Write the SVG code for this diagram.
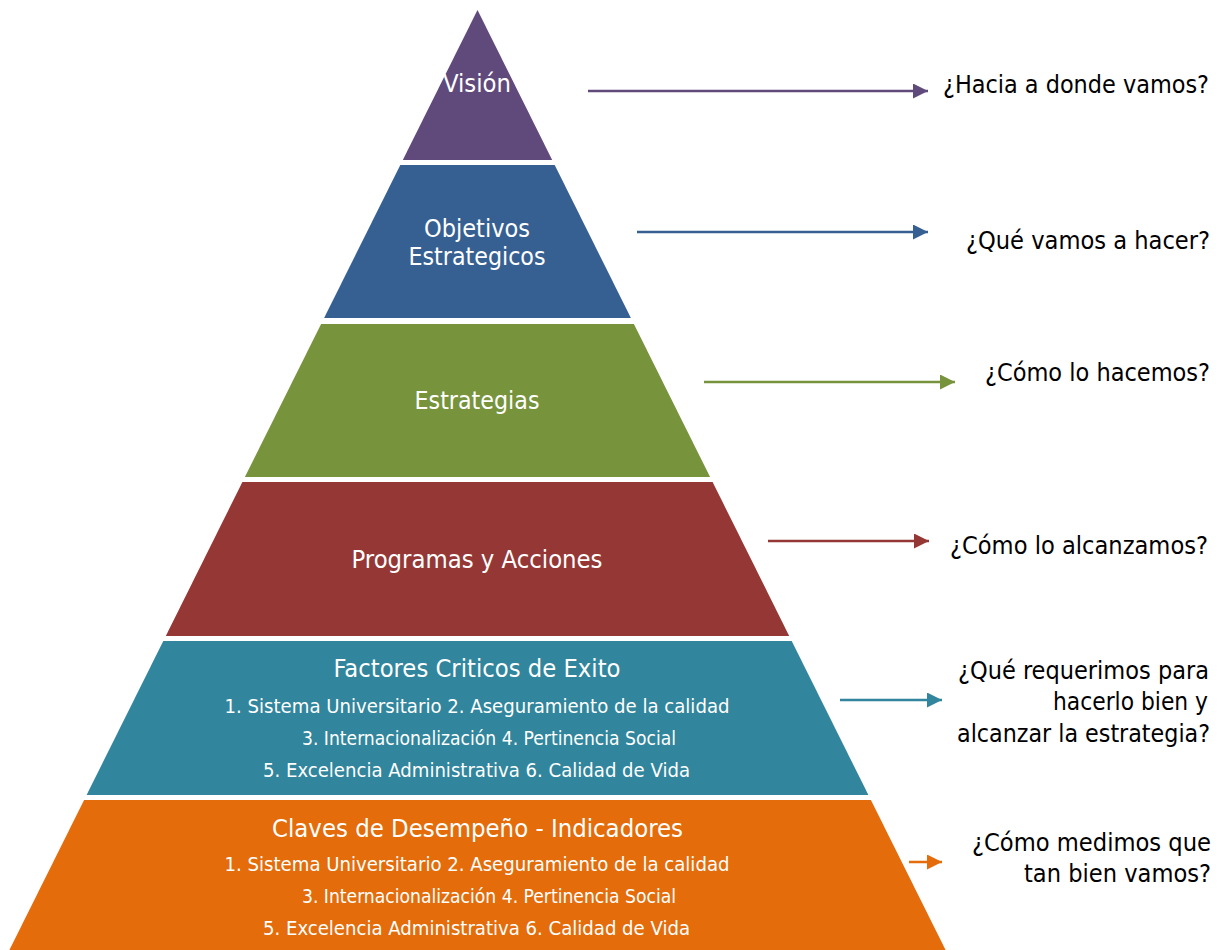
<svg xmlns="http://www.w3.org/2000/svg" width="1223" height="950" viewBox="0 0 1223 950">
<defs>
<style>
.lbl{font-family:"DejaVu Sans Condensed","DejaVu Sans","Liberation Sans",sans-serif;font-stretch:condensed;fill:#ffffff;text-anchor:middle}
.big{font-size:25.5px}
.sub{font-size:19px}
.q{font-family:"DejaVu Sans Condensed","DejaVu Sans","Liberation Sans",sans-serif;font-stretch:condensed;font-size:25.5px;fill:#000000;text-anchor:end}
.conn{fill:none;stroke-width:2.5}
</style>
<marker id="mPurple" markerUnits="userSpaceOnUse" markerWidth="16" markerHeight="16" refX="15" refY="7.5" orient="auto"><path d="M0,0 L15,7.5 L0,15 Z" fill="#604A7B"/></marker>
<marker id="mBlue" markerUnits="userSpaceOnUse" markerWidth="16" markerHeight="16" refX="15" refY="7.5" orient="auto"><path d="M0,0 L15,7.5 L0,15 Z" fill="#376092"/></marker>
<marker id="mGreen" markerUnits="userSpaceOnUse" markerWidth="16" markerHeight="16" refX="15" refY="7.5" orient="auto"><path d="M0,0 L15,7.5 L0,15 Z" fill="#77933C"/></marker>
<marker id="mRed" markerUnits="userSpaceOnUse" markerWidth="16" markerHeight="16" refX="15" refY="7.5" orient="auto"><path d="M0,0 L15,7.5 L0,15 Z" fill="#953735"/></marker>
<marker id="mTeal" markerUnits="userSpaceOnUse" markerWidth="16" markerHeight="16" refX="15" refY="7.5" orient="auto"><path d="M0,0 L15,7.5 L0,15 Z" fill="#31859C"/></marker>
<marker id="mOrange" markerUnits="userSpaceOnUse" markerWidth="16" markerHeight="16" refX="15" refY="7.5" orient="auto"><path d="M0,0 L15,7.5 L0,15 Z" fill="#E46C0A"/></marker>
</defs>
<rect width="1223" height="950" fill="#ffffff"/>

<g id="vision">
<polygon points="477.5,10 552.2,160 402.8,160" fill="#604A7B"/>
<text class="lbl big" x="477" y="92" textLength="68" lengthAdjust="spacingAndGlyphs">Visión</text>
</g>
<g id="objetivos">
<polygon points="400.3,165 554.7,165 630.9,318 324.1,318" fill="#376092"/>
<text class="lbl big" x="477" y="237" textLength="106" lengthAdjust="spacingAndGlyphs">Objetivos</text>
<text class="lbl big" x="477" y="265" textLength="137" lengthAdjust="spacingAndGlyphs">Estrategicos</text>
</g>
<g id="estrategias">
<polygon points="321.1,324 633.9,324 710.1,477 244.9,477" fill="#77933C"/>
<text class="lbl big" x="477" y="409" textLength="125" lengthAdjust="spacingAndGlyphs">Estrategias</text>
</g>
<g id="programas">
<polygon points="242.4,482 712.6,482 789.2,636 165.8,636" fill="#953735"/>
<text class="lbl big" x="477" y="568" textLength="251" lengthAdjust="spacingAndGlyphs">Programas y Acciones</text>
</g>
<g id="factores">
<polygon points="163.3,641 791.7,641 868.4,795 86.6,795" fill="#31859C"/>
<text class="lbl big" x="477" y="677" textLength="287" lengthAdjust="spacingAndGlyphs">Factores Criticos de Exito</text>
<text class="lbl sub" x="477" y="713" textLength="505" lengthAdjust="spacingAndGlyphs">1. Sistema Universitario 2. Aseguramiento de la calidad</text>
<text class="lbl sub" x="489" y="745" textLength="374" lengthAdjust="spacingAndGlyphs">3. Internacionalización 4. Pertinencia Social</text>
<text class="lbl sub" x="476.5" y="777" textLength="427" lengthAdjust="spacingAndGlyphs">5. Excelencia Administrativa 6. Calidad de Vida</text>
</g>
<g id="claves">
<polygon points="84.1,800 870.9,800 945.6,950 9.4,950" fill="#E46C0A"/>
<text class="lbl big" x="477.5" y="837" textLength="411" lengthAdjust="spacingAndGlyphs">Claves de Desempeño - Indicadores</text>
<text class="lbl sub" x="477" y="871" textLength="505" lengthAdjust="spacingAndGlyphs">1. Sistema Universitario 2. Aseguramiento de la calidad</text>
<text class="lbl sub" x="489" y="903" textLength="374" lengthAdjust="spacingAndGlyphs">3. Internacionalización 4. Pertinencia Social</text>
<text class="lbl sub" x="476.5" y="935" textLength="427" lengthAdjust="spacingAndGlyphs">5. Excelencia Administrativa 6. Calidad de Vida</text>
</g>

<g id="connectors">
<line class="conn" x1="588" y1="91" x2="928" y2="91" stroke="#604A7B" marker-end="url(#mPurple)"/>
<line class="conn" x1="637" y1="232" x2="928" y2="232" stroke="#376092" marker-end="url(#mBlue)"/>
<line class="conn" x1="704" y1="382" x2="955" y2="382" stroke="#77933C" marker-end="url(#mGreen)"/>
<line class="conn" x1="768" y1="541" x2="929" y2="541" stroke="#953735" marker-end="url(#mRed)"/>
<line class="conn" x1="840" y1="700" x2="942" y2="700" stroke="#31859C" marker-end="url(#mTeal)"/>
<line class="conn" x1="909" y1="862" x2="942" y2="862" stroke="#E46C0A" marker-end="url(#mOrange)"/>
</g>

<g id="questions">
<text class="q" x="1209" y="93" textLength="266" lengthAdjust="spacingAndGlyphs">¿Hacia a donde vamos?</text>
<text class="q" x="1210" y="249" textLength="244" lengthAdjust="spacingAndGlyphs">¿Qué vamos a hacer?</text>
<text class="q" x="1210" y="381" textLength="225" lengthAdjust="spacingAndGlyphs">¿Cómo lo hacemos?</text>
<text class="q" x="1208" y="554" textLength="258" lengthAdjust="spacingAndGlyphs">¿Cómo lo alcanzamos?</text>
<text class="q" x="1209" y="679" textLength="251" lengthAdjust="spacingAndGlyphs">¿Qué requerimos para</text>
<text class="q" x="1208" y="710" textLength="155" lengthAdjust="spacingAndGlyphs">hacerlo bien y</text>
<text class="q" x="1210" y="742" textLength="253" lengthAdjust="spacingAndGlyphs">alcanzar la estrategia?</text>
<text class="q" x="1211" y="851" textLength="239" lengthAdjust="spacingAndGlyphs">¿Cómo medimos que</text>
<text class="q" x="1211" y="882" textLength="187" lengthAdjust="spacingAndGlyphs">tan bien vamos?</text>
</g>
</svg>
